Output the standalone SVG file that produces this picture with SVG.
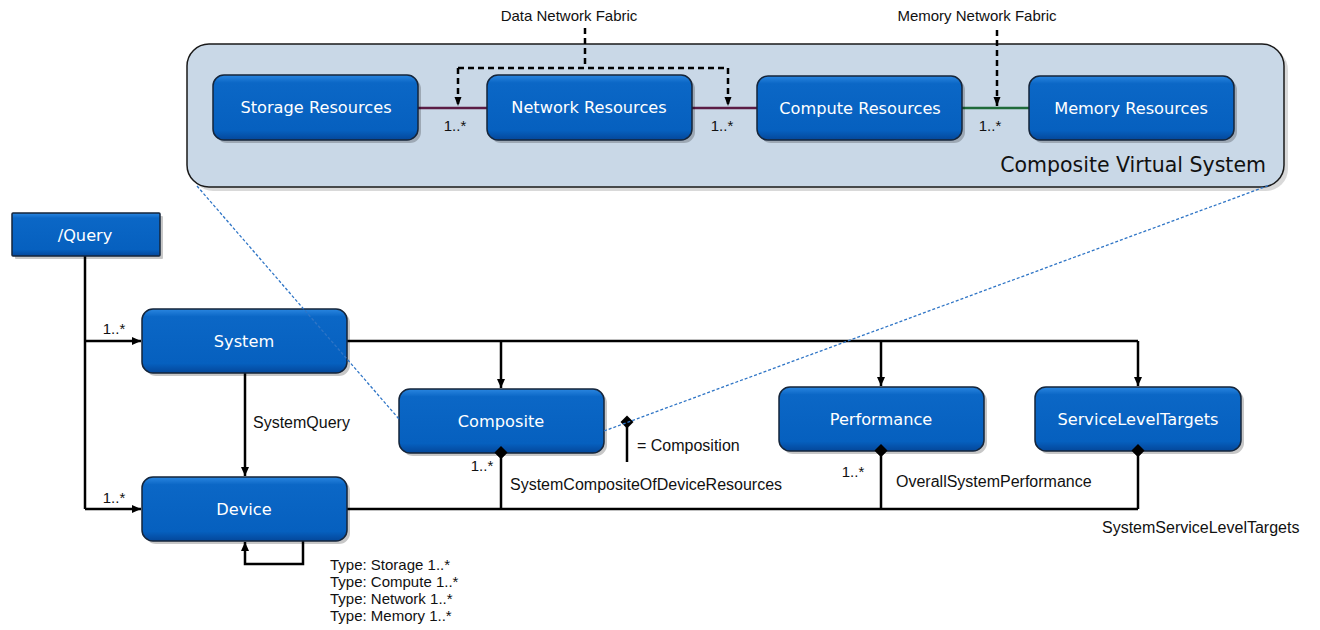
<svg xmlns="http://www.w3.org/2000/svg" width="1320" height="630" viewBox="0 0 1320 630">
<style>
.node rect.b{fill:url(#blue);stroke:#15253a;stroke-width:1.5}
.node rect.s{fill:#000;opacity:0.22}
.node text{font-family:"DejaVu Sans",Verdana,sans-serif;font-size:16.2px;fill:#fff;text-anchor:middle}
.lbl{font-family:"Liberation Sans",Arial,sans-serif;font-size:16px;fill:#111}
.sm{font-family:"Liberation Sans",Arial,sans-serif;font-size:15px;fill:#111}
.ln{fill:none;stroke:#000;stroke-width:2.5}
.dash{fill:none;stroke:#000;stroke-width:2.5;stroke-dasharray:6,4}
.blued{fill:none;stroke:#2f75c6;stroke-width:1.3;stroke-dasharray:3,2}
.dia{fill:#000}
</style>
<defs>
<linearGradient id="blue" x1="0" y1="0" x2="0" y2="1">
<stop offset="0" stop-color="#2a86e0"/>
<stop offset="0.12" stop-color="#0b67c6"/>
<stop offset="0.85" stop-color="#0660bf"/>
<stop offset="1" stop-color="#04479a"/>
</linearGradient>
<marker id="arr" markerWidth="10" markerHeight="10" refX="9" refY="5" orient="auto" markerUnits="userSpaceOnUse">
<path d="M0,1 L9,5 L0,9 Z" fill="#000"/>
</marker>
<marker id="arrs" markerWidth="10" markerHeight="10" refX="9" refY="5" orient="auto" markerUnits="userSpaceOnUse">
<path d="M0,1.5 L9,5 L0,8.5 Z" fill="#000"/>
</marker>
</defs>
<rect width="1320" height="630" fill="#fff"/>

<!-- container -->
<g id="composite-virtual-system">
<rect x="191" y="48" width="1097" height="143" rx="22" fill="#000" opacity="0.15"/>
<rect x="187" y="44" width="1097" height="143" rx="22" fill="#c9d8e7" stroke="#1a1a1a" stroke-width="1.5"/>
<text x="1266" y="172" text-anchor="end" font-family="'DejaVu Sans',Verdana,sans-serif" font-size="20.5" fill="#111">Composite Virtual System</text>
</g>

<g id="connectors">
<!-- top resource links -->
<line x1="418" y1="108" x2="487" y2="108" stroke="#5b1d45" stroke-width="2.5"/>
<line x1="692" y1="108" x2="757" y2="108" stroke="#5b1d45" stroke-width="2.5"/>
<line x1="962" y1="108" x2="1029" y2="108" stroke="#1f6a3a" stroke-width="2.5"/>
<!-- fabrics -->
<path class="dash" d="M585,28 L585,68"/>
<path class="dash" d="M458,68 L728,68"/>
<path class="dash" d="M458,68 L458,106" marker-end="url(#arrs)"/>
<path class="dash" d="M728,68 L728,106" marker-end="url(#arrs)"/>
<path class="dash" d="M997,30 L997,106" marker-end="url(#arrs)"/>
<!-- query -->
<path class="ln" d="M85,256 L85,509"/>
<path class="ln" d="M85,341 L141,341" marker-end="url(#arr)"/>
<path class="ln" d="M85,509 L141,509" marker-end="url(#arr)"/>
<!-- system to device -->
<path class="ln" d="M245,373 L245,476" marker-end="url(#arr)"/>
<!-- system bus -->
<path class="ln" d="M347,341 L1138,341"/>
<path class="ln" d="M501,341 L501,388" marker-end="url(#arr)"/>
<path class="ln" d="M881,341 L881,386" marker-end="url(#arr)"/>
<path class="ln" d="M1138,341 L1138,386" marker-end="url(#arr)"/>
<!-- device bus -->
<path class="ln" d="M347,509 L1138,509"/>
<path class="ln" d="M501,509 L501,458"/>
<path class="ln" d="M881,509 L881,456"/>
<path class="ln" d="M1138,509 L1138,456"/>
<path class="dia" d="M501,446 L507.5,452.5 L501,459 L494.5,452.5 Z"/>
<path class="dia" d="M881,444 L887.5,450.5 L881,457 L874.5,450.5 Z"/>
<path class="dia" d="M1138,444 L1144.5,450.5 L1138,457 L1131.5,450.5 Z"/>
<!-- device self loop -->
<path class="ln" d="M303,541 L303,564 L245,564 L245,542" marker-end="url(#arr)"/>
<!-- legend -->
<path class="dia" d="M627,415.5 L633.5,422 L627,428.5 L620.5,422 Z"/>
<line x1="627" y1="427" x2="627" y2="462" stroke="#000" stroke-width="2.5"/>
</g>

<!-- labels -->
<g id="labels">
<text class="sm" x="569" y="21" text-anchor="middle">Data Network Fabric</text>
<text class="sm" x="977" y="21" text-anchor="middle">Memory Network Fabric</text>
<text class="sm" x="455" y="131" text-anchor="middle">1..*</text>
<text class="sm" x="722" y="131" text-anchor="middle">1..*</text>
<text class="sm" x="990" y="131" text-anchor="middle">1..*</text>
<text class="sm" x="114" y="334" text-anchor="middle">1..*</text>
<text class="sm" x="114" y="503" text-anchor="middle">1..*</text>
<text class="lbl" x="253" y="428">SystemQuery</text>
<text class="sm" x="482" y="471" text-anchor="middle">1..*</text>
<text class="lbl" x="510" y="490">SystemCompositeOfDeviceResources</text>
<text class="sm" x="853" y="477" text-anchor="middle">1..*</text>
<text class="lbl" x="896" y="487">OverallSystemPerformance</text>
<text class="lbl" x="1102" y="533">SystemServiceLevelTargets</text>
<text class="lbl" x="637" y="451">= Composition</text>
<text class="sm" x="330" y="570">Type: Storage 1..*</text>
<text class="sm" x="330" y="587">Type: Compute 1..*</text>
<text class="sm" x="330" y="604">Type: Network 1..*</text>
<text class="sm" x="330" y="621">Type: Memory 1..*</text>
</g>

<!-- nodes -->
<g id="storage-resources" class="node">
<rect class="s" x="216" y="78" width="205" height="65" rx="11"/>
<rect class="b" x="213" y="75" width="205" height="65" rx="11"/>
<text x="316" y="113">Storage Resources</text>
</g>
<g id="network-resources" class="node">
<rect class="s" x="490" y="78" width="205" height="65" rx="11"/>
<rect class="b" x="487" y="75" width="205" height="65" rx="11"/>
<text x="589" y="113">Network Resources</text>
</g>
<g id="compute-resources" class="node">
<rect class="s" x="760" y="79" width="205" height="64" rx="11"/>
<rect class="b" x="757" y="76" width="205" height="64" rx="11"/>
<text x="860" y="114">Compute Resources</text>
</g>
<g id="memory-resources" class="node">
<rect class="s" x="1032" y="79" width="205" height="64" rx="11"/>
<rect class="b" x="1029" y="76" width="205" height="64" rx="11"/>
<text x="1131" y="114">Memory Resources</text>
</g>
<g id="query" class="node">
<rect class="s" x="15" y="216" width="148" height="43" rx="1"/>
<rect class="b" x="12" y="213" width="148" height="43" rx="1"/>
<text x="85" y="241">/Query</text>
</g>
<g id="system" class="node">
<rect class="s" x="145" y="312" width="205" height="64" rx="11"/>
<rect class="b" x="142" y="309" width="205" height="64" rx="11"/>
<text x="244" y="347">System</text>
</g>
<g id="device" class="node">
<rect class="s" x="145" y="480" width="205" height="64" rx="11"/>
<rect class="b" x="142" y="477" width="205" height="64" rx="11"/>
<text x="244" y="515">Device</text>
</g>
<g id="composite" class="node">
<rect class="s" x="402" y="392" width="205" height="64" rx="11"/>
<rect class="b" x="399" y="389" width="205" height="64" rx="11"/>
<text x="501" y="427">Composite</text>
</g>
<g id="performance" class="node">
<rect class="s" x="782" y="390" width="205" height="64" rx="11"/>
<rect class="b" x="779" y="387" width="205" height="64" rx="11"/>
<text x="881" y="425">Performance</text>
</g>
<g id="service-level-targets" class="node">
<rect class="s" x="1038" y="390" width="206" height="64" rx="11"/>
<rect class="b" x="1035" y="387" width="206" height="64" rx="11"/>
<text x="1138" y="425">ServiceLevelTargets</text>
</g>

<!-- composition diamonds drawn over node edges -->
<g id="diamonds-over">
<path class="dia" d="M501,446 L507.5,452.5 L501,459 L494.5,452.5 Z"/>
<path class="dia" d="M881,444 L887.5,450.5 L881,457 L874.5,450.5 Z"/>
<path class="dia" d="M1138,444 L1144.5,450.5 L1138,457 L1131.5,450.5 Z"/>
</g>

<!-- blue dashed zoom lines -->
<g id="zoom-lines">
<path class="blued" d="M197,186 L399,419"/>
<path class="blued" d="M604,431 L1270,185"/>
</g>
</svg>
